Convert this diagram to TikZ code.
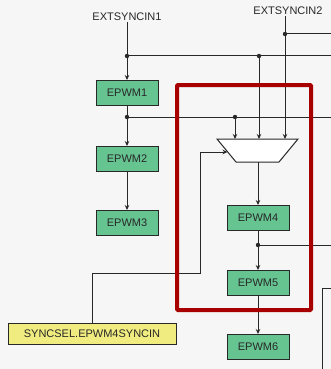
\documentclass[tikz,border=0pt]{standalone}
\usepackage{fontspec}
\setmainfont{Liberation Sans}
\usetikzlibrary{arrows.meta,positioning}
\definecolor{pwmgreen}{RGB}{102,196,145}
\definecolor{selyellow}{RGB}{240,236,128}
\definecolor{framered}{RGB}{168,0,0}
\definecolor{ink}{RGB}{40,40,40}
\definecolor{paper}{RGB}{246,246,246}

\begin{document}
\begin{tikzpicture}[x=1pt,y=-1pt,node distance=65pt,on grid,
  >={Stealth[length=5pt,width=4.5pt]},
  font=\fontsize{11}{13}\selectfont,
  every path/.style={draw=ink,line width=1pt},
  epwm/.style={draw=ink,fill=pwmgreen,text=ink,minimum width=62pt,minimum height=25pt,inner sep=0pt},
  selbox/.style={draw=ink,fill=selyellow,text=ink,minimum width=168pt,minimum height=21pt,inner sep=0pt},
  sig/.style={text=ink,inner sep=1pt},
  junc/.style={fill=ink,draw=none}]
\useasboundingbox[fill=paper,draw=none] (0,0) rectangle (331,369);

% inputs
\node[sig] (ext1) at (127,17) {EXTSYNCIN1};
\node[sig] (ext2) at (288,11) {EXTSYNCIN2};

% left chain
\node[epwm] (epwm1) at (127,93) {EPWM1};
\node[epwm] (epwm2) [below=66pt of epwm1] {EPWM2};
\node[epwm] (epwm3) [below=64pt of epwm2] {EPWM3};

% mux
\coordinate (muxtl) at (217,139);
\coordinate (muxtr) at (298,139);
\coordinate (muxbr) at (279,162);
\coordinate (muxbl) at (236,162);
\filldraw[fill=white] (muxtl) -- (muxtr) -- (muxbr) -- (muxbl) -- cycle;
\coordinate (mux1) at (235,139);
\coordinate (mux2) at (259,139);
\coordinate (mux3) at (285,139);
\coordinate (muxsel) at (227.5,152);
\coordinate (muxout) at (258,162);

% right chain
\node[epwm] (epwm4) at (258,218) {EPWM4};
\node[epwm] (epwm5) [below=65pt of epwm4] {EPWM5};
\node[epwm] (epwm6) [below=64pt of epwm5] {EPWM6};

\node[selbox] (sel) at (92,333.5) {SYNCSEL.EPWM4SYNCIN};

% junctions
\coordinate (j1) at (127,56);
\coordinate (j2) at (259,56);
\coordinate (j3) at (285,34);
\coordinate (j4) at (127,117);
\coordinate (j5) at (235,117);
\coordinate (j6) at (258,245);
\coordinate (edge1) at (331,56);
\coordinate (edge2) at (331,34);
\coordinate (edge3) at (331,117);
\coordinate (edge4) at (331,245);
\coordinate (edge5) at (331,288);
\coordinate (bend) at (322,288);
\coordinate (bottom) at (322,369);
\coordinate (selturn) at (200,273);

\draw[->] (ext1) -- (epwm1);
\draw (j1) -- (edge1);
\draw[->] (j2) -- (mux2);
\draw[->] (ext2.south -| mux3) -- (mux3);
\draw (j3) -- (edge2);
\draw[->] (epwm1) -- (epwm2);
\draw (j4) -- (edge3);
\draw[->] (j5) -- (mux1);
\draw[->] (epwm2) -- (epwm3);
\draw[->] (muxout) -- (epwm4);
\draw[->] (epwm4) -- (epwm5);
\draw (j6) -- (edge4);
\draw[->] (epwm5) -- (epwm6);
\draw[->] (sel.north) |- (selturn) |- (muxsel);
\draw (edge5) -- (bend) -- (bottom);

\foreach \j in {j1,j2,j3,j4,j5,j6}
  \fill[junc] (\j) circle (2.2);

% highlight
\draw[draw=framered,line width=4pt,rounded corners=1pt] (177,85) rectangle (311,310);
\end{tikzpicture}
\end{document}
